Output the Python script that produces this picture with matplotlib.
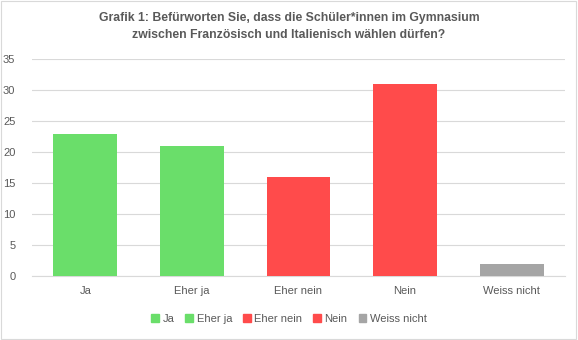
import matplotlib
matplotlib.use("Agg")
import matplotlib.pyplot as plt
from matplotlib.patches import Patch, Rectangle

plt.rcParams["font.family"] = ["Liberation Sans", "DejaVu Sans"]

categories = ["Ja", "Eher ja", "Eher nein", "Nein", "Weiss nicht"]
values = [23, 21, 16, 31, 2]
colors = ["#6ADE6A", "#6ADE6A", "#FF4B4B", "#FF4B4B", "#A5A5A5"]
yticks = [0, 5, 10, 15, 20, 25, 30, 35]
title = ("Grafik 1: Befürworten Sie, dass die Schüler*innen im Gymnasium\n"
         "zwischen Französisch und Italienisch wählen dürfen?")

TXT = "#595959"

fig = plt.figure(figsize=(5.78, 3.40), dpi=100)
ax = fig.add_axes([0.0554, 0.188, 0.922, 0.638])

x = range(len(categories))
ax.bar(x, values, width=0.6, color=colors, zorder=3)
ax.set_xlim(-0.5, len(categories) - 0.5)
ax.set_ylim(0, 35)
ax.set_yticks(yticks)
ax.set_xticks(list(x))
ax.set_xticklabels(categories)
ax.tick_params(axis="both", length=0, labelsize=8, labelcolor=TXT)
ax.tick_params(axis="x", pad=7)
ax.tick_params(axis="y", pad=12)
ax.grid(axis="y", color="#D9D9D9", linewidth=0.8, zorder=0)
for s in ("top", "right", "left"):
    ax.spines[s].set_visible(False)
ax.spines["bottom"].set_color("#D9D9D9")

fig.text(0.5, 0.922, title, ha="center", va="center", fontsize=8.8,
         fontweight="bold", color=TXT, linespacing=1.45)

handles = [Patch(color=c, label=l) for c, l in zip(colors, categories)]
fig.legend(handles=handles, loc="center", bbox_to_anchor=(0.5, 0.063), ncol=5,
           frameon=False, fontsize=8, labelcolor=TXT, handlelength=0.7,
           handleheight=0.7, handletextpad=0.3, columnspacing=1.0)

fig.add_artist(Rectangle((0.002, 0.003), 0.995, 0.994, transform=fig.transFigure,
                         fill=False, edgecolor="#D9D9D9", linewidth=0.8))

fig.savefig("out.png", dpi=100)
